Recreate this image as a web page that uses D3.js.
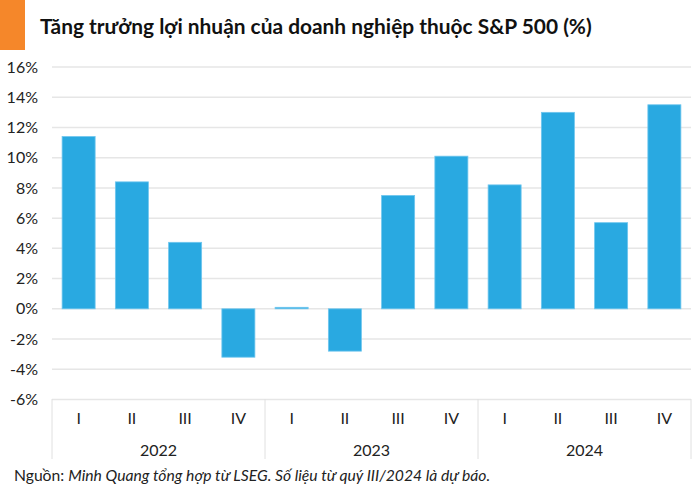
<!DOCTYPE html>
<html>
<head>
  <meta charset="utf-8">
  <script src="https://cdn.jsdelivr.net/npm/d3@7"></script>
  <style>
    body { margin: 0; background: #fff; }
    text { font-family: Lato, "Open Sans", sans-serif; fill: #222; }
  </style>
</head>
<body>
  <div id="chart"></div>
<script>
  // data
  const years = ["2022", "2023", "2024"];
  const quarters = ["I", "II", "III", "IV"];
  const growth = [11.4, 8.4, 4.4, -3.2, 0.1, -2.8, 7.5, 10.1, 8.2, 13.0, 5.7, 13.5];
  const yTicks = [-6, -4, -2, 0, 2, 4, 6, 8, 10, 12, 14, 16];

  const title = "Tăng trưởng lợi nhuận của doanh nghiệp thuộc S&P 500 (%)";

  const W = 700, H = 490;
  const margin = {top: 67, right: 9, bottom: 91, left: 52};
  const width = W - margin.left - margin.right,
        height = H - margin.top - margin.bottom;

  const svg = d3.select("#chart").append("svg")
      .attr("width", W)
      .attr("height", H);

  // orange tag + title
  svg.append("rect")
      .attr("x", 0).attr("y", 0)
      .attr("width", 25).attr("height", 50)
      .attr("fill", "#f5872a");
  svg.append("text")
      .attr("x", 40).attr("y", 34)
      .attr("font-size", 20.9)
      .attr("font-weight", "bold")
      .style("fill", "#111")
      .text(title);

  const g = svg.append("g")
      .attr("transform", "translate(" + margin.left + "," + margin.top + ")");

  const keys = d3.range(growth.length);
  const x = d3.scaleBand()
      .domain(keys)
      .range([0, width])
      .paddingInner(0.38)
      .paddingOuter(0.19);

  const y = d3.scaleLinear()
      .domain([-6, 16])
      .range([height + 0.5, 0]);

  // gridlines
  g.selectAll(".grid")
    .data(yTicks)
    .enter().append("line")
      .attr("x1", 0).attr("x2", width)
      .attr("y1", d => y(d)).attr("y2", d => y(d))
      .attr("stroke", "#e6e6e6")
      .attr("stroke-width", 1.5);

  // y labels
  g.selectAll(".ylab")
    .data(yTicks)
    .enter().append("text")
      .attr("x", -14)
      .attr("y", d => y(d))
      .attr("dy", "0.35em")
      .attr("text-anchor", "end")
      .attr("font-size", 16)
      .text(d => d + "%");

  // bars
  g.selectAll(".bar")
    .data(growth)
    .enter().append("rect")
      .attr("x", (d, i) => x(i))
      .attr("width", x.bandwidth())
      .attr("y", d => y(Math.max(0, d)))
      .attr("height", d => Math.abs(y(d) - y(0)))
      .attr("fill", "#29a9e1")
      .attr("stroke", "#6fc6ee")
      .attr("stroke-width", 0.8);

  // category axis: quarters and years
  const perYear = quarters.length;
  const step = width / growth.length;

  g.selectAll(".qlab")
    .data(growth)
    .enter().append("text")
      .attr("x", (d, i) => x(i) + x.bandwidth() / 2)
      .attr("y", height + 19)
      .attr("dy", "0.35em")
      .attr("text-anchor", "middle")
      .attr("font-size", 16)
      .text((d, i) => quarters[i % perYear]);

  g.selectAll(".ylabel")
    .data(years)
    .enter().append("text")
      .attr("x", (d, i) => step * perYear * (i + 0.5))
      .attr("y", height + 51)
      .attr("dy", "0.35em")
      .attr("text-anchor", "middle")
      .attr("font-size", 16)
      .text(d => d);

  g.selectAll(".sep")
    .data(d3.range(years.length + 1))
    .enter().append("line")
      .attr("x1", d => d * step * perYear)
      .attr("x2", d => d * step * perYear)
      .attr("y1", height)
      .attr("y2", height + 60)
      .attr("stroke", "#e0e0e0")
      .attr("stroke-width", 1);

  // source note
  const note = svg.append("text")
      .attr("x", 14).attr("y", 481)
      .attr("font-size", 15.7);
  note.append("tspan").text("Nguồn: ");
  note.append("tspan")
      .attr("font-style", "italic")
      .text("Minh Quang tổng hợp từ LSEG. Số liệu từ quý III/2024 là dự báo.");
</script>
</body>
</html>
